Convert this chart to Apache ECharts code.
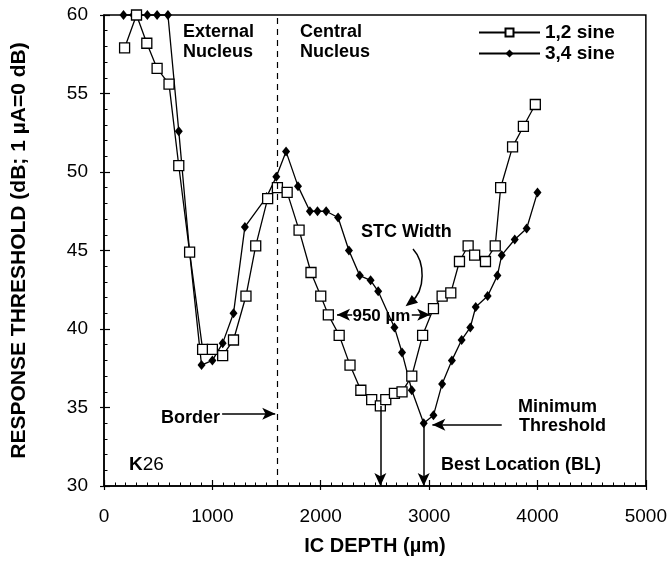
<!DOCTYPE html>
<html lang="en">
<head>
    <meta charset="UTF-8">
    <script src="https://cdn.jsdelivr.net/npm/echarts@6/dist/echarts.min.js"></script>
    <style>
        html, body {margin:0; padding:0; background:#fff;}
        #main {width:670px; height:561px;}
    </style>
    <title>IC depth</title>
    <script>
        // 1,2 sine (open squares)
        const sqDepth = [190,300,395,490,600,690,790,910,1000,1095,1195,1310,1400,1510,1600,1690,
            1800,1910,2000,2070,2170,2270,2370,2470,2550,2600,2680,2750,2840,2940,3040,3120,3200,3280,
            3360,3420,3520,3610,3660,3770,3870,3980];
        const sqThresh = [57.9,60,58.2,56.6,55.6,50.4,44.9,38.7,38.7,38.3,39.3,42.1,45.3,48.3,49.0,48.7,
            46.3,43.6,42.1,40.9,39.6,37.7,36.1,35.5,35.1,35.5,35.9,36.0,37.0,39.6,41.3,42.1,42.3,44.3,
            45.3,44.7,44.3,45.3,49.0,51.6,52.9,54.3];
        // 3,4 sine (filled diamonds)
        const dmDepth = [180,270,320,400,490,590,690,790,900,1000,1095,1195,1300,1500,1590,1680,1790,
            1900,1970,2050,2160,2260,2360,2460,2530,2680,2750,2840,2950,3040,3120,3210,3300,3380,3430,
            3540,3630,3670,3790,3900,4000];
        const dmThresh = [60,60,60,60,60,60,52.6,44.9,37.7,38.0,39.1,41.0,46.5,48.4,49.7,51.3,49.1,
            47.5,47.5,47.5,47.1,45.0,43.4,43.1,42.4,40.1,38.5,36.1,34.0,34.5,36.5,38.0,39.3,40.1,41.4,
            42.1,43.4,44.7,45.7,46.4,48.7];
        const xTicks = [0,1000,2000,3000,4000,5000];
        const yTicks = [30,35,40,45,50,55,60];
        const borderDepth = 1600;
        const sqBL = [2550, 35.1];
        const dmBL = [2950, 34.0];

        const FONT = 'Liberation Sans, Arial, sans-serif';

        window.onload = function () {
            let chart = echarts.init(document.getElementById('main'));
            let zip = (xs, ys) => xs.map((x, i) => [x, ys[i]]);
            let axisBase = {
                axisLine: {show:true, lineStyle:{color:'#000', width:1.5}},
                splitLine: {show:false}
            };
            let options = {
                animation: false,
                grid: {left:104, right:22, top:15, bottom:72, show:true, borderColor:'#000', borderWidth:1.5},
                xAxis: [
                    Object.assign({
                        type:'value', min:xTicks[0], max:xTicks[xTicks.length-1], interval:1000,
                        name:'IC DEPTH (µm)', nameLocation:'middle', nameGap:50,
                        nameTextStyle:{fontFamily:FONT, fontWeight:'bold', fontSize:20, color:'#000'},
                        axisTick:{inside:true, length:6, lineStyle:{color:'#000', width:1.2}},
                        minorTick:{show:true, splitNumber:10, length:3.5, lineStyle:{color:'#000', width:1}},
                        axisLabel:{fontFamily:FONT, fontSize:19, color:'#000', margin:21,
                            formatter:v => String(v)}
                    }, axisBase),
                    {
                        type:'value', min:0, max:5000, interval:1000, position:'bottom',
                        axisLine:{show:false}, axisLabel:{show:false}, splitLine:{show:false},
                        axisTick:{inside:false, length:4, lineStyle:{color:'#000', width:1.2}}
                    }
                ],
                yAxis: [
                    Object.assign({
                        type:'value', min:yTicks[0], max:yTicks[yTicks.length-1], interval:5,
                        name:'RESPONSE THRESHOLD (dB; 1 µA=0 dB)', nameLocation:'middle', nameGap:74,
                        nameTextStyle:{fontFamily:FONT, fontWeight:'bold', fontSize:21, color:'#000'},
                        axisTick:{inside:true, length:6, lineStyle:{color:'#000', width:1.2}},
                        minorTick:{show:true, splitNumber:5, length:3.5, lineStyle:{color:'#000', width:1}},
                        axisLabel:{fontFamily:FONT, fontSize:19, color:'#000', margin:16}
                    }, axisBase),
                    {
                        type:'value', min:30, max:60, interval:5, position:'left',
                        axisLine:{show:false}, axisLabel:{show:false}, splitLine:{show:false},
                        axisTick:{inside:false, length:4, lineStyle:{color:'#000', width:1.2}}
                    }
                ],
                legend: {
                    orient:'vertical', left:478, top:23, padding:0, itemGap:2,
                    itemWidth:61, itemHeight:10,
                    textStyle:{fontFamily:FONT, fontWeight:'bold', fontSize:19, color:'#000'},
                    data:['1,2 sine','3,4 sine']
                },
                series: [
                    {
                        name:'3,4 sine', type:'line', data:zip(dmDepth, dmThresh), clip:false,
                        symbol:'diamond', symbolSize:[8,10],
                        itemStyle:{color:'#000'},
                        lineStyle:{color:'#000', width:1.3},
                        markLine:{
                            silent:true, animation:false, symbol:['none','arrow'], symbolSize:[9,13],
                            lineStyle:{color:'#000', width:1.5, type:'solid'},
                            label:{show:false},
                            data:[
                                [{coord:[borderDepth,30], symbol:'none', lineStyle:{type:[6,5], width:1.2}},
                                 {coord:[borderDepth,60], symbol:'none'}],
                                [{coord:[1090,34.6]}, {coord:[1580,34.6]}],
                                [{coord:[3670,33.9]}, {coord:[3030,33.9]}],
                                [{coord:[sqBL[0],sqBL[1]]}, {coord:[sqBL[0],30]}],
                                [{coord:[dmBL[0],dmBL[1]]}, {coord:[dmBL[0],30]}],
                                [{coord:[2290,40.9]}, {coord:[2150,40.9]}],
                                [{coord:[2840,40.9]}, {coord:[3010,40.9]}]
                            ]
                        }
                    },
                    {
                        name:'1,2 sine', type:'line', data:zip(sqDepth, sqThresh), clip:false,
                        symbol:'rect', symbolSize:10,
                        itemStyle:{color:'#fff', borderColor:'#000', borderWidth:1.3},
                        lineStyle:{color:'#000', width:1.3}
                    }
                ]
            };
            chart.setOption(options);

            // annotations
            let p = (x, y) => chart.convertToPixel({gridIndex:0}, [x, y]);
            let txt = (pos, text, extra) => ({
                type:'text', x:pos[0], y:pos[1], z:10,
                style:Object.assign({text:text, fontFamily:FONT, fontWeight:'bold', fontSize:18,
                    fill:'#000', textVerticalAlign:'middle'}, extra || {})
            });
            let wid = p(2560, 40.9);
            // curved arrow to STC width
            let s0 = [413, 249], c1 = [425, 262], c2 = [426, 290], e0 = [411, 302];
            let dx = e0[0]-c2[0], dy = e0[1]-c2[1], dl = Math.sqrt(dx*dx+dy*dy);
            dx /= dl; dy /= dl;
            let tip = [e0[0]+dx*7, e0[1]+dy*7];
            let base = [tip[0]-dx*12, tip[1]-dy*12];
            let head = [tip, [base[0]-dy*5, base[1]+dx*5], [base[0]+dy*5, base[1]-dx*5]];
            chart.setOption({
                graphic: [
                    txt([183, 32], 'External'),
                    txt([183, 52], 'Nucleus'),
                    txt([300, 32], 'Central'),
                    txt([300, 52], 'Nucleus'),
                    txt([361, 232], 'STC Width'),
                    txt([wid[0], wid[1]+1], '950 µm', {textAlign:'center', fontSize:17}),
                    txt([161, 418], 'Border'),
                    txt([518, 407], 'Minimum'),
                    txt([519, 426], 'Threshold'),
                    txt([441, 465], 'Best Location (BL)'),
                    {
                        type:'text', x:129, y:465, z:10,
                        style:{text:'{b|K}{n|26}', textVerticalAlign:'middle',
                            rich:{b:{fontFamily:FONT, fontWeight:'bold', fontSize:19, fill:'#000'},
                                  n:{fontFamily:FONT, fontSize:19, fill:'#000'}}}
                    },
                    {
                        type:'bezierCurve', z:10,
                        shape:{x1:s0[0], y1:s0[1], cpx1:c1[0], cpy1:c1[1], cpx2:c2[0], cpy2:c2[1], x2:e0[0], y2:e0[1]},
                        style:{stroke:'#000', lineWidth:1.5, fill:null}
                    },
                    {type:'polygon', z:10, shape:{points:head}, style:{fill:'#000'}}
                ]
            });
        }
    </script>
</head>
<body>
    <div id="main"></div>
</body>
</html>
